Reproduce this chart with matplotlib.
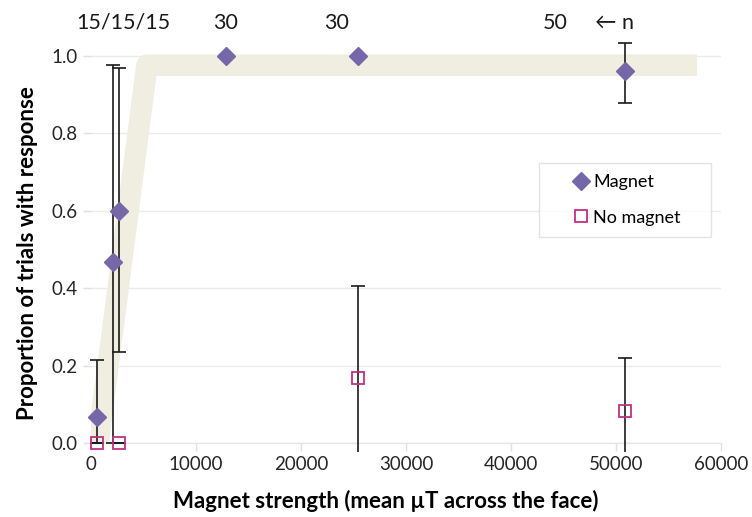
import numpy as np
import matplotlib
matplotlib.use("Agg")
import matplotlib.pyplot as plt
from matplotlib.lines import Line2D

plt.rcParams['font.family'] = ['Lato', 'DejaVu Sans']

# ---- data ----
mag_x = [550, 2100, 2650, 12850, 25400, 50850]
mag_y = [0.067, 0.467, 0.600, 1.0, 1.0, 0.96]
mag_lo = [0.0, 0.0, 0.235, np.nan, np.nan, 0.877]
mag_hi = [0.215, 0.975, 0.968, np.nan, np.nan, 1.032]

nm_x = [550, 2650, 25400, 50850]
nm_y = [0.0, 0.0, 0.167, 0.083]
nm_lo = [0.0, 0.0, -0.023, -0.023]
nm_hi = [0.0, 0.0, 0.405, 0.22]

fit_x = [670, 5330, 57700]
fit_y = [0.0, 0.975, 0.975]

n_labels = ["15/15/15", "30", "30", "50", "\u2190 n"]
n_x = [3100, 12850, 23400, 44200, 49800]

xticks = [0, 10000, 20000, 30000, 40000, 50000, 60000]
yticks = [0.0, 0.2, 0.4, 0.6, 0.8, 1.0]

# ---- figure ----
fig = plt.figure(figsize=(7.52, 5.17), dpi=100)
ax = fig.add_axes([0.121, 0.1431, 0.838, 0.8095])
ax.set_xlim(0, 60000)
ax.set_ylim(0, 1.08)

for s in ['top', 'right', 'left']:
    ax.spines[s].set_visible(False)
ax.spines['bottom'].set_color('#e6e6e6')
ax.spines['bottom'].set_linewidth(1.0)

ax.set_xticks(xticks)
ax.set_xticklabels([str(v) for v in xticks])
ax.set_yticks(yticks)
ax.set_yticklabels([f"{v:.1f}" for v in yticks])
ax.tick_params(axis='both', colors='#e0e0e0', labelcolor='#262626', labelsize=13.5, length=6, width=1)
ax.yaxis.grid(True, color='#ebebeb', lw=1.0)
ax.set_axisbelow(True)

# fitted band
ax.plot(fit_x, fit_y, color='#efeee1', lw=15.5, solid_capstyle='butt', solid_joinstyle='round', zorder=1)

ecol = '#1a1a1a'
elw = 1.2
capw = 10

# magnet error bars
for x, lo, hi in zip(mag_x, mag_lo, mag_hi):
    if np.isnan(lo):
        continue
    ax.vlines(x, lo, hi, color=ecol, lw=elw, zorder=3, clip_on=False)
    ax.plot([x], [hi], marker='_', ms=capw, mew=elw, color=ecol, zorder=3, clip_on=False)
    if lo >= 0:
        ax.plot([x], [lo], marker='_', ms=capw, mew=elw, color=ecol, zorder=3, clip_on=False)

# no magnet error bars
for x, lo, hi in zip(nm_x, nm_lo, nm_hi):
    ax.vlines(x, lo, hi, color=ecol, lw=elw, zorder=3, clip_on=False)
    ax.plot([x], [hi], marker='_', ms=capw, mew=elw, color=ecol, zorder=3, clip_on=False)
    if lo >= 0:
        ax.plot([x], [lo], marker='_', ms=capw, mew=elw, color=ecol, zorder=3, clip_on=False)

ax.plot(mag_x, mag_y, ls='none', marker='D', ms=9, color='#7468a8', mec='#7468a8', zorder=4, clip_on=False)
ax.plot(nm_x, nm_y, ls='none', marker='s', ms=8, mfc='none', mec='#c0307f', mew=1.3, zorder=4, clip_on=False)

for t, x in zip(n_labels, n_x):
    ax.text(x, 1.085, t, ha='center', va='center', fontsize=15.5, color='#1a1a1a', clip_on=False)

ax.set_xlabel("Magnet strength (mean \u00b5T across the face)", fontsize=16, fontweight='bold')
ax.set_ylabel("Proportion of trials with response", fontsize=16, fontweight='bold')
ax.xaxis.set_label_coords(0.467, -0.112)
ax.yaxis.set_label_coords(-0.084, 0.454)

handles = [Line2D([], [], ls='none', marker='D', ms=9, color='#7468a8'),
           Line2D([], [], ls='none', marker='s', ms=8, mfc='none', mec='#c0307f', mew=1.3)]
leg = ax.legend(handles, ["Magnet", "No magnet"], loc='upper left',
                bbox_to_anchor=(0.711, 0.3, 0.273, 0.369), mode='expand',
                fontsize=13, frameon=True, fancybox=False, edgecolor='#dcdcdc', borderpad=0.6,
                labelspacing=1.1, handletextpad=-1.1, handlelength=3.5, borderaxespad=0)
leg.get_frame().set_linewidth(1.0)

fig.savefig("out.png", dpi=100)
